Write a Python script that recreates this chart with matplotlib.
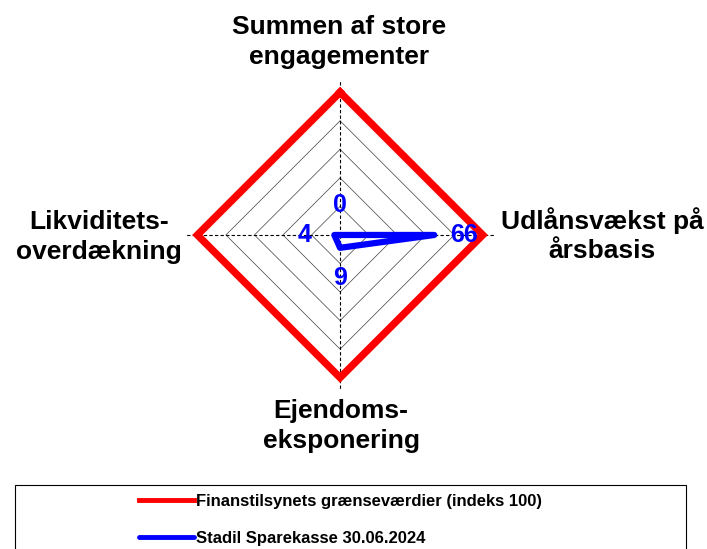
import numpy as np
import matplotlib.pyplot as plt
from matplotlib.patches import Rectangle

plt.rcParams['font.family'] = ['Liberation Sans', 'DejaVu Sans']

categories = ['Summen af store\nengagementer', 'Udlånsvækst på\nårsbasis',
              'Ejendoms-\neksponering', 'Likviditets-\noverdækning']
limit = [100, 100, 100, 100]
bank = [0, 66, 9, 4]
grid_levels = [20, 40, 60, 80]
label_red = 'Finanstilsynets grænseværdier (indeks 100)'
label_blue = 'Stadil Sparekasse 30.06.2024'

angles = np.arange(len(categories)) * 2 * np.pi / len(categories)
closed = np.append(angles, angles[0])

fig = plt.figure(figsize=(7.07, 5.49), dpi=100)
ax = fig.add_axes([0.259, 0.286, 0.444, 0.572], projection='polar')
ax.set_theta_zero_location('N')
ax.set_theta_direction(-1)
ax.set_ylim(0, 110)
ax.grid(False)
ax.set_xticks([])
ax.set_yticks([])
ax.spines['polar'].set_visible(False)

# diamond grid
for g in grid_levels:
    ax.plot(closed, [g] * 5, color='#404040', lw=0.5, zorder=1)
# dashed axes
for a in angles:
    ax.plot([a, a], [0, 108], color='black', lw=0.8, ls=(0, (3, 2)), zorder=1)

ax.plot(closed, limit + limit[:1], color='#ff0000', lw=5.3, solid_joinstyle='miter',
        label=label_red, zorder=3)
ax.plot(closed, bank + bank[:1], color='#0000ff', lw=4.5, solid_joinstyle='round',
        solid_capstyle='round', label=label_blue, zorder=4)

for a, v in zip(angles, bank):
    ax.text(a, v + 21, str(v), color='#0000ff', fontsize=18, fontweight='bold',
            ha='center', va='center', zorder=5)

# category labels
kw = dict(ha='center', va='center', fontsize=19, fontweight='bold', linespacing=1.3)
fig.text(339 / 707, 1 - 42 / 549, categories[0], **kw)
fig.text(602 / 707, 1 - 235 / 549, categories[1], **kw)
fig.text(341 / 707, 1 - 426 / 549, categories[2], **kw)
fig.text(99 / 707, 1 - 237 / 549, categories[3], **kw)

# legend box
fig.patches.append(Rectangle((15 / 707, -0.05), 671 / 707, 0.05 + 64 / 549,
                             transform=fig.transFigure, fill=False,
                             edgecolor='black', lw=0.8))
h, l = ax.get_legend_handles_labels()
leg = fig.legend(h, l, loc='center left', bbox_to_anchor=(124 / 707, 1 - 520 / 549),
                 frameon=False, prop={'weight': 'bold', 'size': 12},
                 handlelength=3.3, handletextpad=0.1, labelspacing=1.3)
for line in leg.get_lines():
    line.set_linewidth(3.5)

fig.savefig('out.png', dpi=100)
